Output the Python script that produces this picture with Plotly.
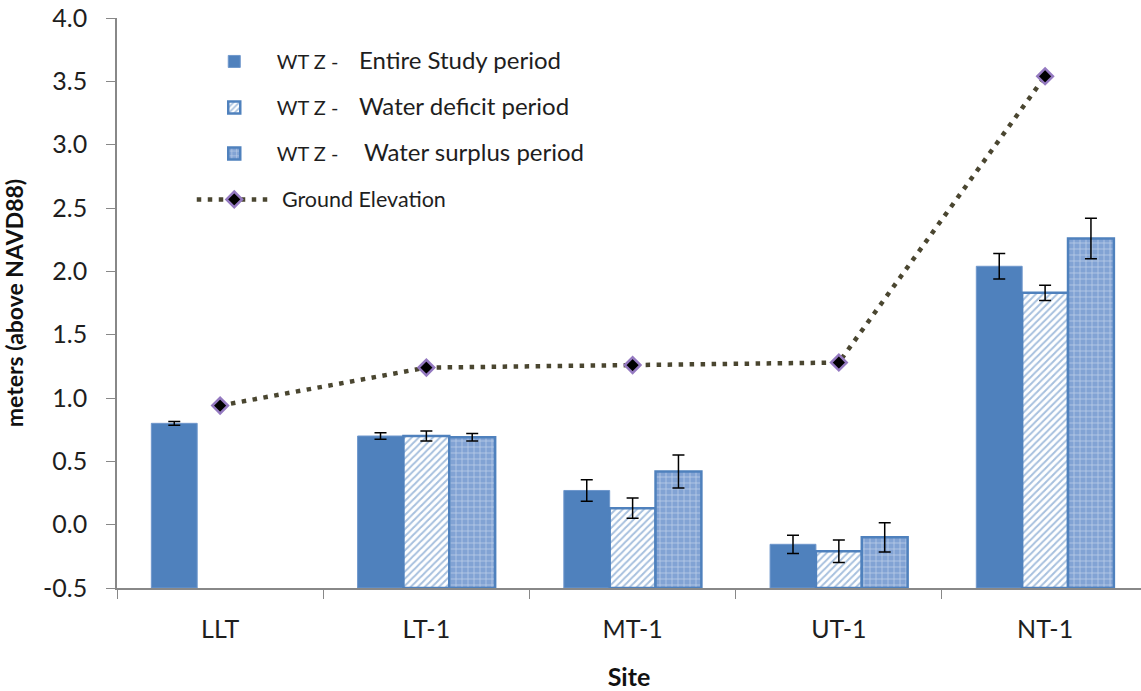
import plotly.graph_objects as go

sites = ["LLT", "LT-1", "MT-1", "UT-1", "NT-1"]

# Water table elevation (m above NAVD88) and error (+/-)
wt_entire = [0.80, 0.70, 0.27, -0.155, 2.04]
wt_entire_err = [0.015, 0.025, 0.085, 0.072, 0.10]
wt_deficit = [None, 0.70, 0.13, -0.21, 1.83]
wt_deficit_err = [0, 0.04, 0.08, 0.088, 0.06]
wt_surplus = [None, 0.69, 0.42, -0.10, 2.26]
wt_surplus_err = [0, 0.03, 0.13, 0.115, 0.16]
ground_elev = [0.94, 1.24, 1.26, 1.28, 3.54]

axis_base = -0.5
y_ticks = [-0.5, 0.0, 0.5, 1.0, 1.5, 2.0, 2.5, 3.0, 3.5, 4.0]

BLUE = "#4f81bd"
FONT = "Lato"
TXT = "#1e1e1e"

def above_base(vals):
    return [None if v is None else v - axis_base for v in vals]

def err(e):
    return dict(type="data", array=e, visible=True, color="black", thickness=1.5, width=6)

def legend_name(label, gap):
    return "WT Z -" + "&nbsp;" * gap + "<span style='font-size:24px'>" + label + "</span>"

fig = go.Figure()

fig.add_trace(go.Bar(
    x=sites, y=above_base(wt_entire), base=axis_base,
    name=legend_name("Entire Study period", 4),
    marker=dict(color=BLUE, line=dict(color="#6f97cc", width=1)),
    error_y=err(wt_entire_err), legendgroup="a",
))
fig.add_trace(go.Bar(
    x=sites, y=above_base(wt_deficit), base=axis_base,
    name=legend_name("Water deficit period", 4),
    marker=dict(color="white", line=dict(color=BLUE, width=2.5),
                pattern=dict(shape="/", fgcolor=BLUE, bgcolor="white", size=5, solidity=0.4)),
    error_y=err(wt_deficit_err), legendgroup="b",
))
fig.add_trace(go.Bar(
    x=sites, y=above_base(wt_surplus), base=axis_base,
    name=legend_name("Water surplus period", 5),
    marker=dict(color="#86a6d6", line=dict(color=BLUE, width=2.5),
                pattern=dict(shape="+", fgcolor="white", bgcolor="#82a3d4", size=6, solidity=0.22)),
    error_y=err(wt_surplus_err), legendgroup="c",
))
fig.add_trace(go.Scatter(
    x=sites, y=ground_elev, mode="lines+markers",
    name="&nbsp;<span style='font-size:21.5px'>Ground Elevation</span>",
    line=dict(color="#4a4630", width=4.5, dash="4.5px,6.5px"),
    marker=dict(symbol="diamond", size=12, color="black",
                line=dict(color="#9479c0", width=2.5)),
    legendgroup="d",
))

fig.update_layout(
    width=1141, height=691,
    margin=dict(l=117, r=0, t=18, b=103),
    paper_bgcolor="white", plot_bgcolor="white",
    font=dict(family=FONT, color=TXT),
    barmode="group", bargap=0.333, bargroupgap=0,
    showlegend=True,
    legend=dict(x=0.073, y=0.958, xanchor="left", yanchor="top",
                font=dict(family=FONT, size=20, color=TXT),
                bgcolor="rgba(0,0,0,0)", tracegroupgap=17,
                traceorder="grouped", itemwidth=75),
    xaxis=dict(
        range=[-0.5, 4.465], tickson="boundaries", ticks="outside", ticklen=9,
        tickcolor="#888888", showline=True, linecolor="#888888", linewidth=1.5,
        tickfont=dict(family=FONT, size=25, color=TXT), ticklabelstandoff=18,
        title=dict(text="<b>Site</b>", font=dict(family=FONT, size=25, color="#111111"), standoff=46),
        showgrid=False, zeroline=False, automargin=False, ticklabeloverflow="allow",
    ),
    yaxis=dict(
        range=[-0.5, 4.0], tickvals=y_ticks, ticktext=[f"{v:.1f}" for v in y_ticks],
        ticks="outside", ticklen=9, tickcolor="#888888", showline=True,
        linecolor="#888888", linewidth=1.5,
        tickfont=dict(family=FONT, size=25, color=TXT), ticklabelstandoff=14,
        title=dict(text="<b>meters (above NAVD88)</b>", font=dict(family=FONT, size=23, color="#111111"), standoff=20),
        showgrid=False, zeroline=False, automargin=False, ticklabeloverflow="allow",
    ),
)

fig.write_html("out.html", config={"displayModeBar": False},
               post_script="document.body.style.margin='0';document.body.style.overflow='hidden';")
